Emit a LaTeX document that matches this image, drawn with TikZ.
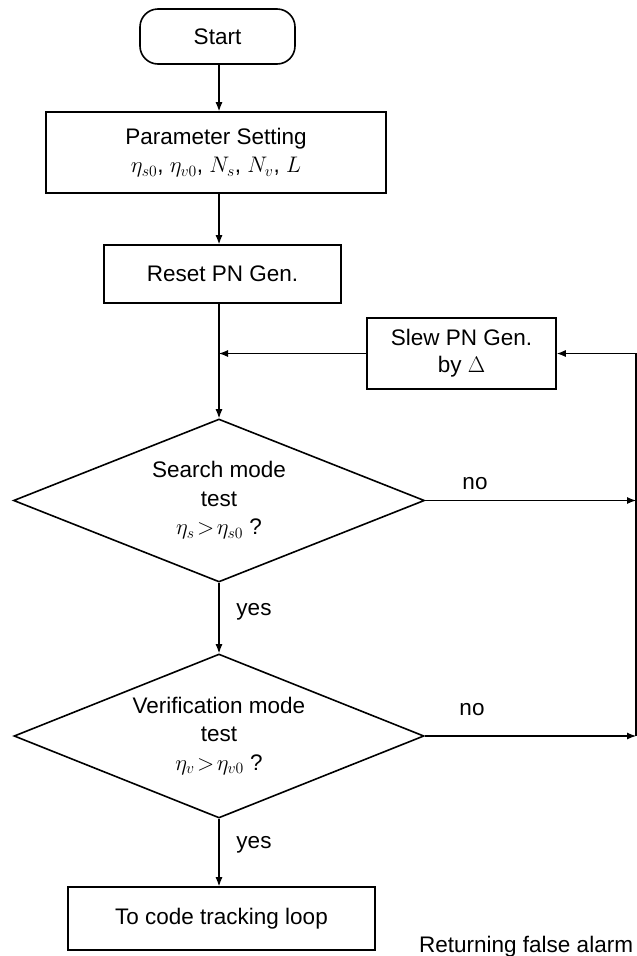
\RequirePackage{fix-cm}
\documentclass[tikz,border=0pt]{standalone}
\usepackage{fontspec}
\setmainfont{Liberation Sans}
\usetikzlibrary{shapes.geometric,arrows.meta}
\begin{document}
\begin{tikzpicture}[x=1pt,y=-1pt,
  every node/.style={font=\fontsize{22.5}{28.5}\selectfont},
  box/.style={draw, line width=1.6pt, inner sep=0pt, align=center},
  dia/.style={draw, diamond, aspect=2.5, line width=1.6pt, inner sep=0pt, align=center},
  conn/.style={line width=1.1pt, -{Latex[length=9pt,width=7pt]}},
  lbl/.style={inner sep=0pt}]
\useasboundingbox (0,0) rectangle (637,956);
\coordinate (ax) at (219,0);
\coordinate (rx) at (636,0);
% nodes
\node[box, rounded corners=18pt, minimum width=155pt, minimum height=55pt] (start) at (217.5,36.5) {Start};
\node[box, minimum width=340pt, minimum height=81pt] (param) at (216,152.5)
  {Parameter Setting\\ $\eta_{s0}$, $\eta_{v0}$, $N_s$, $N_v$, $L$};
\node[box, minimum width=237pt, minimum height=58pt] (reset) at (222.5,274) {Reset PN Gen.};
\node[box, minimum width=189pt, minimum height=71pt, font=\fontsize{22.5}{27}\selectfont] (slew) at (461.5,353.5) {Slew PN Gen.\\ by $\Delta$};
\node[dia, minimum width=411pt, minimum height=163pt] (d1) at (219,500.5)
  {Search mode\\ test\\ $\eta_s\!>\!\eta_{s0}$ ?};
\node[dia, minimum width=410pt, minimum height=164pt] (d2) at (219,736)
  {Verification mode\\ test\\ $\eta_v\!>\!\eta_{v0}$ ?};
\node[box, minimum width=307pt, minimum height=63pt] (code) at (221.5,918.5) {To code tracking loop};
% labels
\node[lbl, anchor=base] (no1) at (475,489) {no};
\node[lbl, anchor=base] (no2) at (472,715) {no};
\node[lbl, anchor=base] (yes1) at (254,615) {yes};
\node[lbl, anchor=base] (yes2) at (254,848) {yes};
\node[lbl, anchor=base west] (ret) at (419,952) {Returning false alarm};
% connectors
\draw[conn] (start.south -| ax) -- (param.north -| ax);
\draw[conn] (param.south -| ax) -- (reset.north -| ax);
\draw[conn] (reset.south -| ax) -- (d1.north);
\draw[conn] (slew.west) -- (slew.west -| ax);
\draw[conn] (d1.south) -- (d2.north);
\draw[conn] (d2.south) -- (code.north -| ax);
\draw[conn] (d1.east) -- (d1.east -| rx);
\draw[conn] (d2.east) -- (d2.east -| rx);
\draw[conn] (d2.east -| rx) -- (slew.east -| rx) -- (slew.east);
\end{tikzpicture}
\end{document}
